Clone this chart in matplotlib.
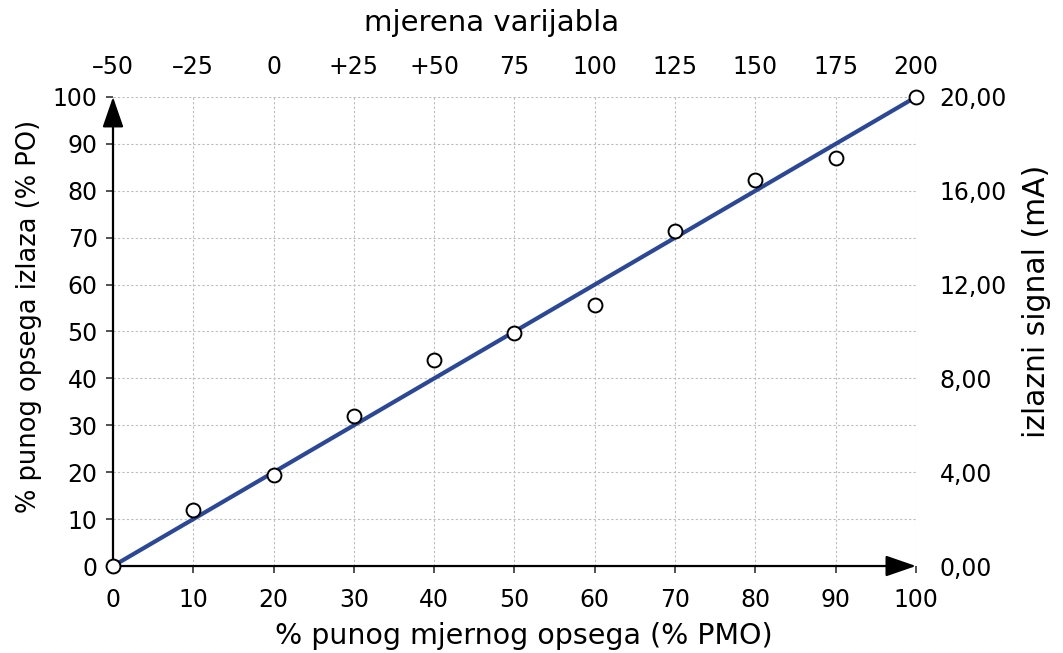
import matplotlib
matplotlib.use('Agg')
import matplotlib.pyplot as plt

plt.rcParams['font.family'] = ['DejaVu Sans']
plt.rcParams['font.size'] = 17

# measured points: % PMO vs % PO
x_pmo = [0, 10, 20, 30, 40, 50, 60, 70, 80, 90, 100]
y_po = [0, 12, 19.3, 32, 44, 49.6, 55.7, 71.4, 82.3, 86.9, 100]
# ideal transfer line
line_x = [0, 100]
line_y = [0, 100]

top_labels = ['\u201350', '\u201325', '0', '+25', '+50', '75', '100', '125', '150', '175', '200']
right_ticks = [0, 4, 8, 12, 16, 20]
right_labels = ['0,00', '4,00', '8,00', '12,00', '16,00', '20,00']

fig = plt.figure(figsize=(10.63, 6.53), dpi=100)
ax1 = fig.add_axes([0.1063, 0.1332, 0.7554, 0.7183])

# grid + data
ax1.set_xlim(0, 100)
ax1.set_ylim(0, 100)
ax1.set_xticks(range(0, 101, 10))
ax1.set_yticks(range(0, 101, 10))
ax1.grid(True, color='#bdbdbd', linestyle=(0, (2, 2)), linewidth=0.8)
ax1.plot(line_x, line_y, color='#2b4797', linewidth=3.0, zorder=3)
ax1.plot(x_pmo, y_po, 'o', markersize=10, markerfacecolor='white',
         markeredgecolor='black', markeredgewidth=1.4, zorder=4, clip_on=False)

for s in ax1.spines.values():
    s.set_visible(False)
ax1.tick_params(axis='both', direction='out', length=5, width=1.2, color='#333333')
ax1.tick_params(axis='x', pad=11)
ax1.tick_params(axis='y', pad=6)
ax1.set_xlabel('% punog mjernog opsega (% PMO)', fontsize=20.5)
ax1.xaxis.set_label_coords(0.512, -0.119)
ax1.set_ylabel('% punog opsega izlaza (% PO)', fontsize=18.5)
ax1.yaxis.set_label_coords(-0.088, 0.533)

# axes with arrow heads
arrow_kw = dict(arrowstyle='-|>,head_length=1.1,head_width=0.38', color='black',
                linewidth=1.6, shrinkA=0, shrinkB=0)
ax1.annotate('', xy=(0, 1.0), xytext=(0, 0), xycoords='axes fraction',
             arrowprops=arrow_kw, annotation_clip=False)
ax1.annotate('', xy=(1.0, 0), xytext=(0, 0), xycoords='axes fraction',
             arrowprops=arrow_kw, annotation_clip=False)

# top axis: measured variable
ax_top = ax1.twiny()
ax_top.set_xlim(0, 100)
ax_top.set_xticks(range(0, 101, 10))
ax_top.set_xticklabels(top_labels)
ax_top.tick_params(axis='x', length=0, pad=13)
ax_top.set_xlabel('mjerena varijabla', fontsize=21)
ax_top.xaxis.set_label_coords(0.472, 1.14)
for s in ax_top.spines.values():
    s.set_visible(False)

# right axis: output signal
ax_r = ax1.twinx()
ax_r.set_ylim(0, 20)
ax_r.set_yticks(right_ticks)
ax_r.set_yticklabels(right_labels)
ax_r.tick_params(axis='y', length=0, pad=17)
ax_r.set_ylabel('izlazni signal (mA)', fontsize=21.5)
ax_r.yaxis.set_label_coords(1.132, 0.565)
for s in ax_r.spines.values():
    s.set_visible(False)

fig.savefig('out.png', dpi=100)
